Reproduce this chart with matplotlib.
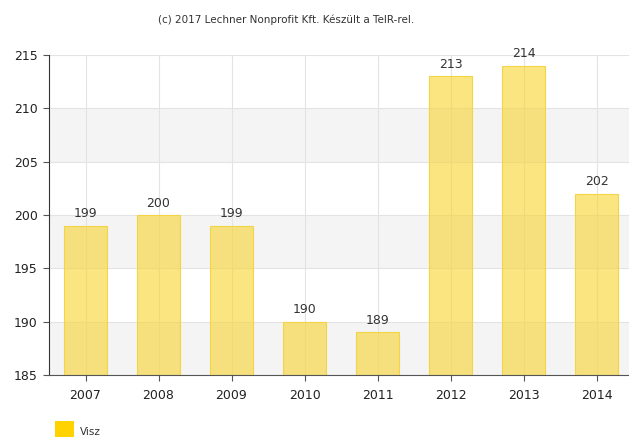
import matplotlib
matplotlib.use("Agg")
import matplotlib.pyplot as plt
from matplotlib.patches import Rectangle

years = ["2007", "2008", "2009", "2010", "2011", "2012", "2013", "2014"]
visz = [199, 200, 199, 190, 189, 213, 214, 202]
y_ticks = [185, 190, 195, 200, 205, 210, 215]
series_name = "Visz"
credit = "(c) 2017 Lechner Nonprofit Kft. Készült a TeIR-rel."

fig = plt.figure(figsize=(6.29, 4.37), dpi=100)
ax = fig.add_axes([49 / 629, 62 / 437, 584 / 629, 320 / 437])

ax.set_xlim(-0.5, len(years) - 0.5)
ax.set_ylim(y_ticks[0], y_ticks[-1])

# alternating horizontal bands
for i in range(len(y_ticks) - 1):
    if i % 2 == 0:
        ax.axhspan(y_ticks[i], y_ticks[i + 1], color="#f4f4f4", zorder=0, lw=0)

ax.set_yticks(y_ticks)
ax.set_xticks(range(len(years)))
ax.set_xticklabels(years)
ax.grid(True, color="#e3e3e3", lw=0.8, zorder=0.5)
ax.set_axisbelow(True)

x = list(range(len(years)))
ax.bar(x, [v - y_ticks[0] for v in visz], bottom=y_ticks[0], width=0.6,
       facecolor=(0.97, 0.83, 0.18, 0.6), edgecolor="#f3d445", lw=0.8, zorder=2)

for xi, v in zip(x, visz):
    ax.text(xi, v + 0.5, str(v), ha="center", va="bottom", fontsize=9,
            color="#333333", zorder=3)

for s in ["top", "right"]:
    ax.spines[s].set_visible(False)
ax.spines["left"].set_color("#333333")
ax.spines["bottom"].set_color("#555555")
ax.tick_params(axis="both", labelsize=9, labelcolor="#222222", color="#555555",
               length=4, width=0.8)
ax.tick_params(axis="y", pad=4)
ax.tick_params(axis="x", pad=6)

fig.text(286 / 629, 1 - 20 / 437, credit, ha="center", va="center",
         fontsize=7.5, color="#333333")

# legend
fig.patches.append(Rectangle((55 / 629, 0), 19 / 629, 16 / 437,
                             transform=fig.transFigure, facecolor="#ffd200",
                             edgecolor="none"))
fig.text(80 / 629, 1 - 432 / 437, series_name, ha="left", va="center",
         fontsize=7.5, color="#333333")

fig.savefig("out.png", dpi=100)
